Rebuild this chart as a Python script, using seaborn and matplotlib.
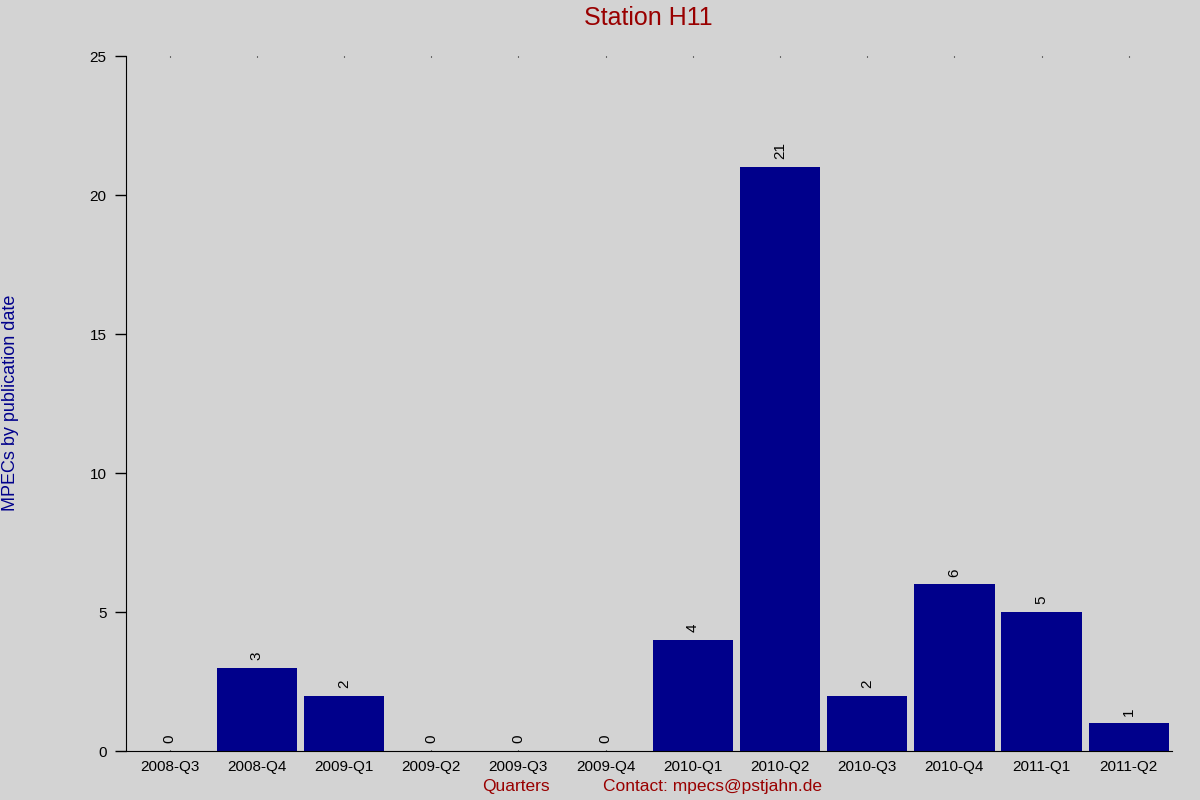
import matplotlib
matplotlib.use("Agg")
import matplotlib.pyplot as plt
import seaborn as sns
import pandas as pd

quarters = ["2008-Q3", "2008-Q4", "2009-Q1", "2009-Q2", "2009-Q3", "2009-Q4",
            "2010-Q1", "2010-Q2", "2010-Q3", "2010-Q4", "2011-Q1", "2011-Q2"]
mpecs = [0, 3, 2, 0, 0, 0, 4, 21, 2, 6, 5, 1]

df = pd.DataFrame({"quarter": quarters, "count": mpecs})

sns.set_style("ticks")
plt.rcParams['font.family'] = ['Liberation Sans', 'DejaVu Sans']
plt.rcParams['text.color'] = 'black'
plt.rcParams['xtick.color'] = 'black'
plt.rcParams['ytick.color'] = 'black'
plt.rcParams['xtick.labelcolor'] = 'black'
plt.rcParams['ytick.labelcolor'] = 'black'

bg = "#d3d3d3"
fig = plt.figure(figsize=(12, 8), dpi=100, facecolor=bg)
ax = fig.add_axes([0.105, 0.061, 0.872, 0.869])
ax.set_facecolor(bg)

sns.barplot(data=df, x="quarter", y="count", color="#00008b", saturation=1,
            width=0.92, linewidth=0, edgecolor="none", ax=ax)

for i, v in enumerate(mpecs):
    ax.text(i, v + 0.28, str(v), rotation=90, ha="center", va="bottom",
            fontsize=11, color="black")

ax.set_ylim(0, 25)
ax.set_xlim(-0.5, len(quarters) - 0.5)
ax.set_yticks([0, 5, 10, 15, 20, 25])
ax.tick_params(axis="y", labelsize=11, length=8, width=1, pad=6)
ax.tick_params(axis="x", labelsize=11, length=0, pad=6)
ax.tick_params(axis="x", which="major", top=True, direction="in")
for t in ax.xaxis.get_ticklines():
    t.set_markersize(1)

for side in ["top", "right"]:
    ax.spines[side].set_visible(False)
ax.spines["left"].set_color("black")
ax.spines["bottom"].set_color("black")

ax.set_xlabel("")
ax.set_ylabel("")

fig.text(0.54, 0.977, "Station H11", ha="center", va="center",
         fontsize=18, color="#990000")
fig.text(0.009, 0.497, "MPECs by publication date", rotation=90,
         ha="center", va="center", fontsize=13, color="#00008b")
fig.text(0.43, 0.017, "Quarters", ha="center", va="center",
         fontsize=12.5, color="#990000")
fig.text(0.5025, 0.017, "Contact: mpecs@pstjahn.de", ha="left", va="center",
         fontsize=12.5, color="#990000")

fig.savefig("out.png", dpi=100, facecolor=bg)
